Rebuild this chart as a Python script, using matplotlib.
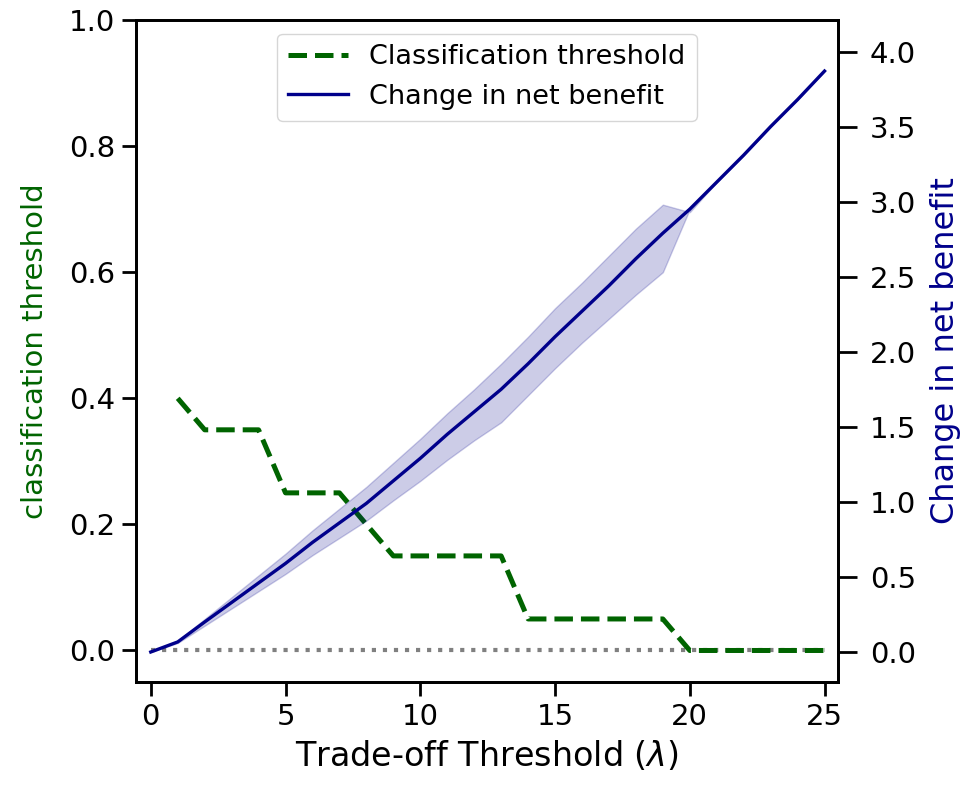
import numpy as np
import matplotlib
matplotlib.use("Agg")
import matplotlib.pyplot as plt

# trade-off threshold (lambda)
lam = np.arange(0, 26)

# classification threshold (left axis), starts at lambda = 1
thr_x = [1, 2, 4, 5, 7, 9, 13, 14, 19, 20, 25]
thr_y = [0.40, 0.35, 0.35, 0.25, 0.25, 0.15, 0.15, 0.05, 0.05, 0.0, 0.0]

# change in net benefit (right axis) with band
benefit = [0.0, 0.067, 0.20, 0.33, 0.46, 0.59, 0.73, 0.86, 0.99, 1.14,
           1.29, 1.45, 1.60, 1.75, 1.92, 2.10, 2.27, 2.44, 2.62, 2.79,
           2.95, 3.13, 3.31, 3.50, 3.68, 3.87]
benefit_lo = [0.0, 0.06, 0.175, 0.29, 0.405, 0.52, 0.645, 0.76, 0.875, 1.01,
              1.14, 1.28, 1.41, 1.53, 1.71, 1.89, 2.06, 2.22, 2.38, 2.53,
              2.95, 3.13, 3.31, 3.50, 3.68, 3.87]
benefit_hi = [0.0, 0.075, 0.22, 0.365, 0.51, 0.655, 0.81, 0.955, 1.10, 1.26,
              1.42, 1.59, 1.75, 1.92, 2.10, 2.29, 2.46, 2.64, 2.82, 2.98,
              2.93, 3.13, 3.31, 3.50, 3.68, 3.87]

fig = plt.figure(figsize=(9.67, 7.85), dpi=100)
ax1 = fig.add_axes([0.1406, 0.1312, 0.726, 0.8433])
ax2 = ax1.twinx()

ax1.plot([0, 25], [0, 0], ls=':', color='gray', lw=3)
l1, = ax1.plot(thr_x, thr_y, ls='--', color='darkgreen', lw=3.6,
               label='Classification threshold')
l2, = ax2.plot(lam, benefit, color='darkblue', lw=2.4,
               label='Change in net benefit')
ax2.fill_between(lam, benefit_lo, benefit_hi, color='darkblue', alpha=0.2)

ax1.set_xlim(-0.55, 25.5)
ax1.set_ylim(-0.05, 1.0)
ax2.set_ylim(-0.2, 4.21)
ax1.set_xticks([0, 5, 10, 15, 20, 25])
ax1.set_yticks([0.0, 0.2, 0.4, 0.6, 0.8, 1.0])
ax2.set_yticks([0.0, 0.5, 1.0, 1.5, 2.0, 2.5, 3.0, 3.5, 4.0])

ax1.set_xlabel(r'Trade-off Threshold ($\lambda$)', fontsize=24, labelpad=6)
ax1.set_ylabel('classification threshold', color='darkgreen', fontsize=21,
               labelpad=14)
ax2.set_ylabel('Change in net benefit', color='darkblue', fontsize=23,
               labelpad=10)

ax1.tick_params(labelsize=21, length=10, width=2, pad=5)
ax2.tick_params(labelsize=21, length=14, width=2, pad=9)
for s in ax1.spines.values():
    s.set_linewidth(2)
for s in ax2.spines.values():
    s.set_linewidth(2)

ax1.legend(handles=[l1, l2], loc='upper center', fontsize=19.5,
           handlelength=2.2)

fig.savefig('out.png', dpi=100)
